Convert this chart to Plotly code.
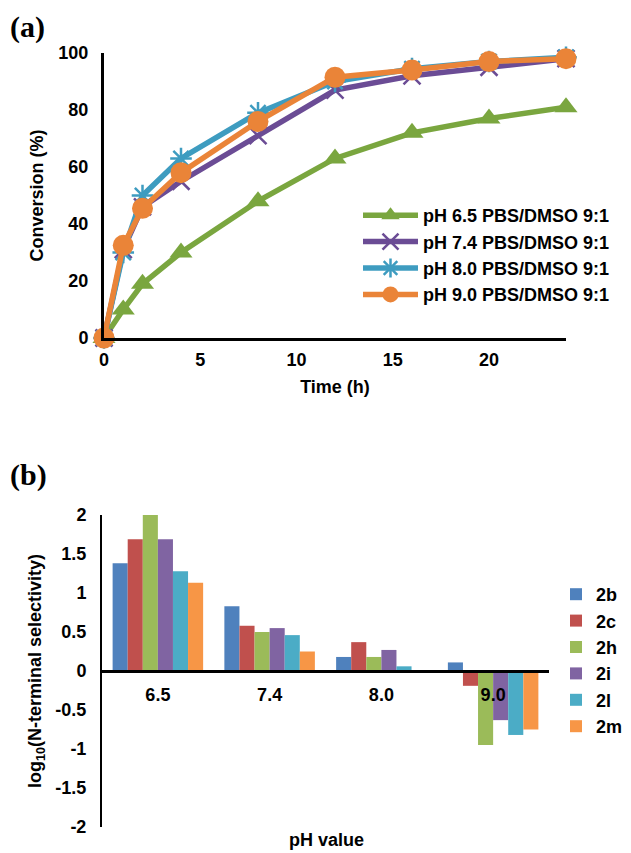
import plotly.graph_objects as go

# ---- panel (a) data ----
time_h = [0, 1, 2, 4, 8, 12, 16, 20, 24]
conv_65 = [0, 10, 19, 30, 48, 63, 72, 77, 81]
conv_74 = [0, 31, 46, 55, 71, 87, 92, 95, 98]
conv_80 = [0, 30, 50, 63, 79, 90, 94.5, 97, 98.5]
conv_90 = [0, 32.5, 45.5, 58, 76, 91.5, 94, 97, 98]
series_a_names = ["pH 6.5 PBS/DMSO 9:1", "pH 7.4 PBS/DMSO 9:1",
                  "pH 8.0 PBS/DMSO 9:1", "pH 9.0 PBS/DMSO 9:1"]

# ---- panel (b) data ----
ph_labels = ["6.5", "7.4", "8.0", "9.0"]
sel_2b = [1.38, 0.83, 0.18, 0.11]
sel_2c = [1.69, 0.58, 0.37, -0.19]
sel_2h = [2.00, 0.50, 0.18, -0.95]
sel_2i = [1.69, 0.55, 0.27, -0.63]
sel_2l = [1.28, 0.46, 0.06, -0.82]
sel_2m = [1.13, 0.25, 0.00, -0.75]
series_b_names = ["2b", "2c", "2h", "2i", "2l", "2m"]

# page body has an 8px margin: figure occupies the window minus that offset
OFF = 8
W, H = 631 - OFF, 853 - OFF
FONT = "Liberation Sans, Arial, sans-serif"


def fx(x):  # screen px -> paper x
    return (x - OFF) / W


def fy(y):  # screen px -> paper y
    return 1 - (y - OFF) / H


fig = go.Figure()

a_colors = ["#7AA63F", "#6B4C95", "#3E9CC0", "#EA8438"]
a_symbols = ["triangle-up", "x-thin-open", "asterisk-open", "circle"]
a_sizes = [20, 17, 18, 21]
for ys, name, c, sym, sz in zip([conv_65, conv_74, conv_80, conv_90], series_a_names,
                                a_colors, a_symbols, a_sizes):
    mk = dict(symbol=sym, size=sz, color=c)
    if "open" in sym:
        mk["line"] = dict(color=c, width=2.5)
    fig.add_trace(go.Scatter(x=time_h, y=ys, name=name, mode="lines+markers",
                             line=dict(color=c, width=5.5), marker=mk,
                             xaxis="x", yaxis="y", legend="legend", cliponaxis=False))

b_colors = ["#4F81BD", "#C0504D", "#9BBB59", "#8064A2", "#4BACC6", "#F79646"]
for vals, name, c in zip([sel_2b, sel_2c, sel_2h, sel_2i, sel_2l, sel_2m], series_b_names, b_colors):
    fig.add_trace(go.Bar(x=ph_labels, y=vals, name=name, marker=dict(color=c, line=dict(width=0)),
                         xaxis="x2", yaxis="y2", legend="legend2", legendgroup=name))

tick_font = dict(family=FONT, size=18, color="black", weight="bold")

fig.update_layout(
    width=W, height=H,
    margin=dict(l=0, r=0, t=0, b=0, autoexpand=False),
    paper_bgcolor="white", plot_bgcolor="white",
    font=dict(family=FONT, size=18, color="black"),
    barmode="group", bargap=0.19, bargroupgap=0,
    xaxis=dict(domain=[fx(104), fx(566)], range=[0, 24], anchor="y",
               tickvals=[0, 5, 10, 15, 20], showgrid=False, zeroline=False,
               showline=True, linecolor="black", linewidth=3, ticks="",
               tickfont=tick_font, ticklabelstandoff=3, automargin=False,
               title=dict(text="Time (h)", font=tick_font, standoff=12)),
    yaxis=dict(domain=[fy(338), fy(53)], range=[0, 100], anchor="x",
               tickvals=[0, 20, 40, 60, 80, 100], showgrid=False, zeroline=False,
               showline=True, linecolor="black", linewidth=3, ticks="",
               tickfont=tick_font, ticklabelstandoff=9, automargin=False,
               title=dict(text="Conversion (%)", font=tick_font, standoff=11)),
    xaxis2=dict(domain=[fx(102), fx(549)], anchor="free", position=fy(671),
                showgrid=False, zeroline=False, showline=True, linecolor="black",
                linewidth=3, ticks="", tickfont=tick_font, ticklabelstandoff=6,
                automargin=False),
    yaxis2=dict(domain=[fy(827), fy(515)], range=[-2, 2], anchor="x2",
                tickvals=[-2, -1.5, -1, -0.5, 0, 0.5, 1, 1.5, 2],
                ticktext=["-2", "-1.5", "-1", "-0.5", "0", "0.5", "1", "1.5", "2"],
                showgrid=False, zeroline=False, showline=True, linecolor="black",
                linewidth=2, ticks="", tickfont=tick_font, ticklabelstandoff=10,
                automargin=False,
                title=dict(text="log<sub>10</sub>(N-terminal selectivity)", font=tick_font, standoff=9)),
    legend=dict(x=fx(358), y=fy(197), xanchor="left", yanchor="top",
                font=dict(family=FONT, size=18, color="black", weight="bold"),
                bgcolor="rgba(0,0,0,0)", tracegroupgap=0, itemwidth=55,
                traceorder="normal"),
    legend2=dict(x=fx(556), y=fy(576), xanchor="left", yanchor="top",
                 font=dict(family=FONT, size=18, color="black", weight="bold"),
                 bgcolor="rgba(0,0,0,0)", tracegroupgap=13, itemwidth=30,
                 traceorder="normal"),
    showlegend=True,
    annotations=[
        dict(text="(a)", x=0, y=1, xref="paper", yref="paper", xanchor="left", yanchor="top",
             showarrow=False, xshift=0, yshift=0,
             font=dict(family="Liberation Serif, Times New Roman, serif", size=30, color="black", weight="bold")),
        dict(text="(b)", x=0, y=fy(456), xref="paper", yref="paper", xanchor="left", yanchor="top",
             showarrow=False, xshift=0,
             font=dict(family="Liberation Serif, Times New Roman, serif", size=30, color="black", weight="bold")),
        dict(text="pH value", x=fx(326), y=fy(840), xref="paper", yref="paper",
             xanchor="center", yanchor="middle", showarrow=False, font=tick_font),
    ],
)

fig.write_html("out.html")
